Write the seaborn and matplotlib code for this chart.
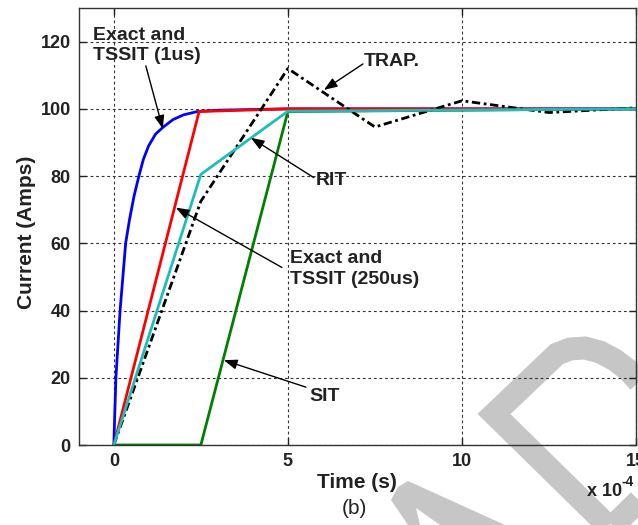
import numpy as np
import pandas as pd
import matplotlib
matplotlib.use("Agg")
import matplotlib.pyplot as plt
import seaborn as sns
from matplotlib.lines import Line2D
from matplotlib.patches import Polygon

# ---- data (time in units of 1e-4 s, current in A) ----
t_exact_1us = [0, 0.03, 0.06, 0.12, 0.18, 0.26, 0.34, 0.45, 0.58, 0.72, 0.85, 1.0,
               1.2, 1.41, 1.7, 2.0, 2.4, 3.0, 5.0, 15]
i_exact_1us = [0, 10, 20, 30, 40, 50, 60, 67, 74, 80, 85, 89,
               92.5, 94.5, 96.8, 98.2, 99.2, 99.6, 100, 100]

t_exact_250 = [0, 2.45, 5, 15]
i_exact_250 = [0, 99.2, 100, 100]

t_rit = [0, 2.5, 5, 15]
i_rit = [0, 80.5, 99.3, 100]

t_sit = [0, 2.5, 5, 15]
i_sit = [0, 0, 99.2, 100]

t_trap = [0, 2.5, 5, 7.5, 10, 12.5, 15]
i_trap = [0, 72.5, 112, 94.6, 102.4, 98.9, 100.3]

x_ticks = [0, 5, 10, 15]
y_ticks = [0, 20, 40, 60, 80, 100, 120]

sns.set_style("ticks")
plt.rcParams['font.family'] = ['Liberation Sans', 'DejaVu Sans']

W, H = 638, 525
fig = plt.figure(figsize=(W / 100, H / 100), dpi=100)
fig.patch.set_facecolor('white')


def pf(x, y):
    return (x / W, 1 - y / H)


# ---- background watermark (decorative) ----
wm = '#c6c6c6'
path = [(665, 475), (610.6, 528.4), (494, 414), (557, 354), (570, 349), (585, 348),
        (600, 352), (615, 360), (628, 370), (640, 383), (652, 398)]
xs, ys = zip(*[pf(*p) for p in path])
fig.add_artist(Line2D(xs, ys, transform=fig.transFigure, color=wm, lw=16.5,
                      solid_joinstyle='miter', solid_capstyle='butt', zorder=-5))
poly = [(398, 487), (408, 481), (505, 525), (440, 525), (416, 508), (420, 525),
        (408, 525), (391, 500)]
fig.add_artist(Polygon([pf(*p) for p in poly], closed=True, transform=fig.transFigure,
                       facecolor=wm, edgecolor='none', zorder=-5))

ax = fig.add_axes([79 / W, 1 - 445 / H, (636 - 79) / W, (445 - 8) / H])
ax.set_facecolor('none')

sns.lineplot(x=t_exact_1us, y=i_exact_1us, color='#0000ff', lw=2.0, ax=ax, sort=False)
sns.lineplot(x=t_sit, y=i_sit, color='#008000', lw=2.0, ax=ax, sort=False)
sns.lineplot(x=t_exact_250, y=i_exact_250, color='#ff0000', lw=2.0, ax=ax, sort=False)
sns.lineplot(x=t_trap, y=i_trap, color='black', lw=2.0, ax=ax, sort=False,
             linestyle=(0, (3, 1.3, 1, 1.3)))
sns.lineplot(x=t_rit, y=i_rit, color='#1fbcbc', lw=2.0, ax=ax, sort=False)

ax.set_xlim(-1, 15)
ax.set_ylim(0, 130)
ax.set_xticks(x_ticks)
ax.set_yticks(y_ticks)
ax.set_xticklabels([str(v) for v in x_ticks], fontsize=13, fontweight='bold')
ax.set_yticklabels([str(v) for v in y_ticks], fontsize=13, fontweight='bold')
ax.tick_params(direction='in', length=5, width=1, top=True, right=True,
               colors='#222222', pad=6)
for s in ax.spines.values():
    s.set_visible(True)
    s.set_color('#333333')
    s.set_linewidth(1.0)
ax.grid(True, color='#333333', linestyle=(0, (2.5, 2.5)), linewidth=0.8)
ax.set_xlabel('')
ax.set_ylabel('')

# ---- annotations ----
arrow = dict(arrowstyle='-|>,head_length=0.8,head_width=0.3', color='black', lw=1.0,
             shrinkA=0, shrinkB=0, mutation_scale=10)
tfs = 14


def d(px, py):
    return ((px - 113) / 34.8, (445 - py) / 3.37)


ax.annotate('', xy=d(162, 128), xytext=d(145, 65), arrowprops=arrow)
ax.text(*d(92, 26), 'Exact and\nTSSIT (1us)', fontsize=tfs, fontweight='bold',
        ha='left', va='top', linespacing=1.25, color='#222222')

ax.annotate('', xy=d(323, 89), xytext=d(362, 63), arrowprops=arrow)
ax.text(*d(363, 61), 'TRAP.', fontsize=tfs, fontweight='bold', ha='left', va='center',
        color='#222222')

ax.annotate('', xy=d(250, 137), xytext=d(313, 177), arrowprops=arrow)
ax.text(*d(315, 180), 'RIT', fontsize=tfs, fontweight='bold', ha='left', va='center',
        color='#222222')

ax.annotate('', xy=d(175, 207), xytext=d(281, 267), arrowprops=arrow)
ax.text(*d(289, 250), 'Exact and\nTSSIT (250us)', fontsize=tfs, fontweight='bold',
        ha='left', va='top', linespacing=1.25, color='#222222')

ax.annotate('', xy=d(223, 360), xytext=d(305, 387), arrowprops=arrow)
ax.text(*d(308, 396), 'SIT', fontsize=tfs, fontweight='bold', ha='left', va='center',
        color='#222222')

# ---- axis labels ----
fig.text(*pf(27, 232), 'Current (Amps)', rotation=90, fontsize=15, fontweight='bold',
         ha='center', va='center', color='#222222')
fig.text(*pf(357, 482), 'Time (s)', fontsize=15, fontweight='bold', ha='center',
         va='center', color='#222222')
fig.text(*pf(354, 509), '(b)', fontsize=15, ha='center', va='center', color='#222222')
fig.text(*pf(587, 491), 'x 10', fontsize=13, fontweight='bold', ha='left', va='center',
         color='#222222')
fig.text(*pf(622, 482), '-4', fontsize=10, fontweight='bold', ha='left', va='center',
         color='#222222')

fig.savefig('out.png', dpi=100)
